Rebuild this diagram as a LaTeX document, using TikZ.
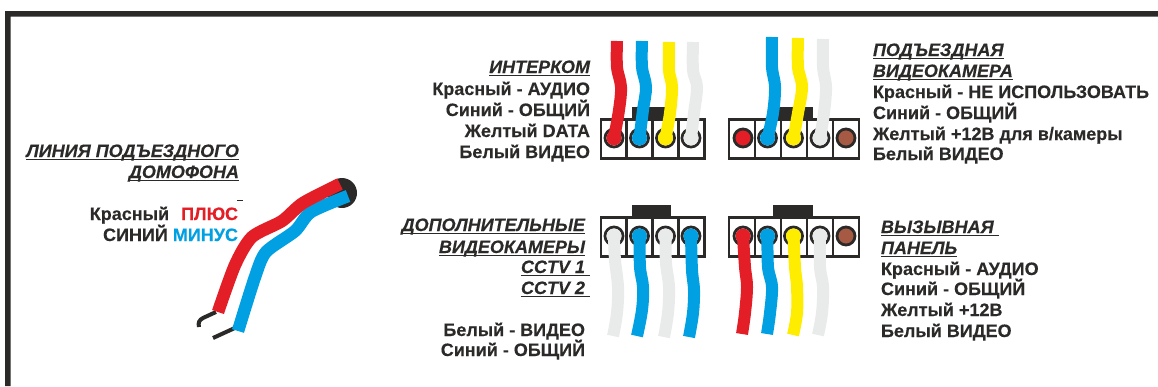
\documentclass[tikz,border=0pt]{standalone}
\usepackage{fontspec}
\setmainfont[BoldFeatures={FakeBold=0.25},BoldItalicFeatures={FakeBold=0.25}]{Liberation Sans}
\definecolor{wred}{HTML}{E31E26}
\definecolor{wblue}{HTML}{00A0E3}
\definecolor{wyellow}{HTML}{FFED00}
\definecolor{wwhite}{HTML}{E9EBEA}
\definecolor{wdark}{HTML}{2B2A29}
\definecolor{wbrown}{HTML}{A65A44}
\tikzset{
  lbl/.style={inner sep=0pt,outer sep=0pt,font=\fontsize{18}{18}\selectfont\bfseries,text=wdark},
  lr/.style={lbl,anchor=base east},
  ll/.style={lbl,anchor=base west},
  head/.style={font=\fontsize{18}{18}\selectfont\bfseries\itshape},
  cell/.style={draw=wdark,line width=2.5pt,fill=white,minimum height=39pt,inner sep=0pt,outer sep=0pt,anchor=north west},
  tabblk/.style={fill=wdark,inner sep=0pt,outer sep=0pt,anchor=north west,minimum height=13pt},
  pin/.style={circle,draw=#1,line width=2.8pt,fill=white,minimum size=18pt,inner sep=0pt,outer sep=0pt},
  wire/.style={line width=12pt,draw=#1,line cap=butt,line join=round},
  blob/.style={fill=#1,draw=none},
  stub/.style={line width=4pt,draw=wdark,line cap=butt}
}
\newcommand{\wirefrom}[3]{%
  \draw[wire=#1] plot[smooth,tension=0.6] coordinates {#3};
  \fill[blob=#1] (#2.center) circle (7.5pt);
}
\newsavebox{\hdbox}
\newcommand{\hd}[1]{\sbox{\hdbox}{#1}\usebox{\hdbox}\llap{\rule[-2.9pt]{\wd\hdbox}{1.4pt}}}
\begin{document}
\begin{tikzpicture}[x=1pt,y=-1pt]
\useasboundingbox (0,0) rectangle (1158,386);
% frame
\fill[wdark] (5,386) -- (5,11) -- (1158,11) -- (1158,16.5) -- (10.5,16.5) -- (10.5,386) -- cycle;

% --- top-left connector
\node[tabblk,minimum width=39pt] (tabA) at (632,107) {};
\foreach \n/\x/\w in {1/601/25.5,2/626.5/26,3/652.5/26,4/678.5/26}
  \node[cell,minimum width=\w pt] (A\n) at (\x,119.5) {};
\node[pin=wdark] (pA1) at (614,138) {};
\node[pin=wdark] (pA2) at (639.5,138) {};
\node[pin=wdark] (pA3) at (665.5,138) {};
\node[pin=wdark] (pA4) at (691,138) {};
\wirefrom{wred}{pA1}{(617,41) (617,67) (621,87) (619,110) (pA1.center)}
\wirefrom{wblue}{pA2}{(642,41) (642,67) (646,87) (643,110) (pA2.center)}
\wirefrom{wyellow}{pA3}{(669,42) (669,70) (672,87) (670,113) (pA3.center)}
\wirefrom{wwhite}{pA4}{(693,42) (693,70) (697,87) (694,113) (pA4.center)}

% --- top-right connector
\node[tabblk,minimum width=40pt] (tabB) at (773,107) {};
\foreach \n/\x in {1/729,2/755,3/781,4/807,5/833}
  \node[cell,minimum width=26pt] (B\n) at (\x,119.5) {};
\node[pin=wdark,fill=wred] (pB1) at (743,138) {};
\node[pin=wdark] (pB2) at (767.5,138) {};
\node[pin=wdark] (pB3) at (793.5,138) {};
\node[pin=wdark] (pB4) at (820,138) {};
\node[pin=wdark,fill=wbrown] (pB5) at (846,138) {};
\wirefrom{wblue}{pB2}{(772,37) (772,67) (775,87) (773,113) (pB2.center)}
\wirefrom{wyellow}{pB3}{(798,38) (798,67) (802,87) (798,113) (pB3.center)}
\wirefrom{wwhite}{pB4}{(823,39) (823,67) (826,87) (824,113) (pB4.center)}

% --- bottom-left connector
\node[tabblk,minimum width=39pt] (tabC) at (632,205) {};
\foreach \n/\x/\w in {1/601/25.5,2/626.5/26,3/652.5/26,4/678.5/26}
  \node[cell,minimum width=\w pt] (C\n) at (\x,217.5) {};
\node[pin=wdark] (pC1) at (614,236) {};
\node[pin=wdark] (pC2) at (639.5,236) {};
\node[pin=wdark] (pC3) at (665.5,236) {};
\node[pin=wdark] (pC4) at (691,236) {};
\wirefrom{wwhite}{pC1}{(pC1.center) (615,260) (618,287) (617,313) (613,336)}
\wirefrom{wblue}{pC2}{(pC2.center) (640,267) (643,287) (642,310) (637,336)}
\wirefrom{wwhite}{pC3}{(pC3.center) (666,263) (669,287) (668,313) (664,337)}
\wirefrom{wblue}{pC4}{(pC4.center) (692,270) (694,290) (693,313) (689,337)}

% --- bottom-right connector
\node[tabblk,minimum width=40pt] (tabD) at (773,205) {};
\foreach \n/\x in {1/729,2/755,3/781,4/807,5/833}
  \node[cell,minimum width=26pt] (D\n) at (\x,217.5) {};
\node[pin=wdark] (pD1) at (743,236) {};
\node[pin=wdark] (pD2) at (767.5,236) {};
\node[pin=wdark] (pD3) at (793.5,236) {};
\node[pin=wdark] (pD4) at (820,236) {};
\node[pin=wdark,fill=wbrown] (pD5) at (846,236) {};
\wirefrom{wred}{pD1}{(pD1.center) (745,267) (747,287) (745,313) (742,334)}
\wirefrom{wblue}{pD2}{(pD2.center) (768,267) (772,287) (770,313) (767,334)}
\wirefrom{wyellow}{pD3}{(pD3.center) (795,267) (797,287) (797,313) (793,335)}
\wirefrom{wwhite}{pD4}{(pD4.center) (820,267) (823,287) (822,313) (818,335)}

% --- line cable
\node[circle,fill=wdark,minimum size=30pt,inner sep=0pt] (jack) at (342,193) {};
\draw[stub] (216,312) -- (203,318) .. controls (199,320) and (198,323) .. (199,327);
\draw[stub] (237,327) -- (213,338);
\draw[wire=wblue,line width=12.5pt] plot[smooth,tension=0.45] coordinates {(348,196) (311,212) (295,231) (266,252) (255,277) (238,331)};
\draw[wire=wred,line width=12.5pt] plot[smooth,tension=0.45] coordinates {(340,184) (303,203) (282,221) (252,237) (235,265) (218,312)};
\draw[wdark,line width=1pt] (237,200.5) -- (243,200.5);

% --- labels left
\node[lr,head] (t1) at (239,157) {\hd{ЛИНИЯ ПОДЪЕЗДНОГО}};
\node[lr,head] (t2) at (239,178) {\hd{ДОМОФОНА}};
\node[lr] (t3) at (238,220) {Красный\hspace{12pt}\textcolor{wred}{ПЛЮС}};
\node[lr] (t4) at (238,241) {СИНИЙ \textcolor{wblue}{МИНУС}};

% --- labels top-left
\node[lr,head] (a0) at (590,73) {\hd{ИНТЕРКОМ}};
\node[lr] (a1) at (590,95) {Красный - АУДИО};
\node[lr] (a2) at (590,116) {Синий - ОБЩИЙ};
\node[lr] (a3) at (590,137) {Желтый DATA};
\node[lr] (a4) at (590,158) {Белый ВИДЕО};

% --- labels top-right
\node[ll,head] (b0) at (873,56) {\hd{ПОДЪЕЗДНАЯ}};
\node[ll,head] (b1) at (873,77) {\hd{ВИДЕОКАМЕРА}};
\node[ll] (b2) at (873,98) {Красный - НЕ ИСПОЛЬЗОВАТЬ};
\node[ll] (b3) at (873,119) {Синий - ОБЩИЙ};
\node[ll] (b4) at (873,140) {Желтый +12В для в/камеры};
\node[ll] (b5) at (873,160) {Белый ВИДЕО};

% --- labels bottom-left
\node[lr,head] (c0) at (585,231) {\hd{ДОПОЛНИТЕЛЬНЫЕ}};
\node[lr,head] (c1) at (585,253) {\hd{ВИДЕОКАМЕРЫ}};
\node[lr,head] (c2) at (590,273) {\hd{CCTV 1\hspace{5pt}}};
\node[lr,head] (c3) at (590,294) {\hd{CCTV 2\hspace{5pt}}};
\node[lr] (c4) at (585,336) {Белый - ВИДЕО};
\node[lr] (c5) at (585,356) {Синий - ОБЩИЙ};

% --- labels bottom-right
\node[ll,head] (d0) at (881,233) {\hd{ВЫЗЫВНАЯ\ }};
\node[ll,head] (d1) at (881,254) {\hd{ПАНЕЛЬ}};
\node[ll] (d2) at (881,275) {Красный - АУДИО};
\node[ll] (d3) at (881,295) {Синий - ОБЩИЙ};
\node[ll] (d4) at (881,316) {Желтый +12В};
\node[ll] (d5) at (881,337) {Белый ВИДЕО};
\end{tikzpicture}
\end{document}
